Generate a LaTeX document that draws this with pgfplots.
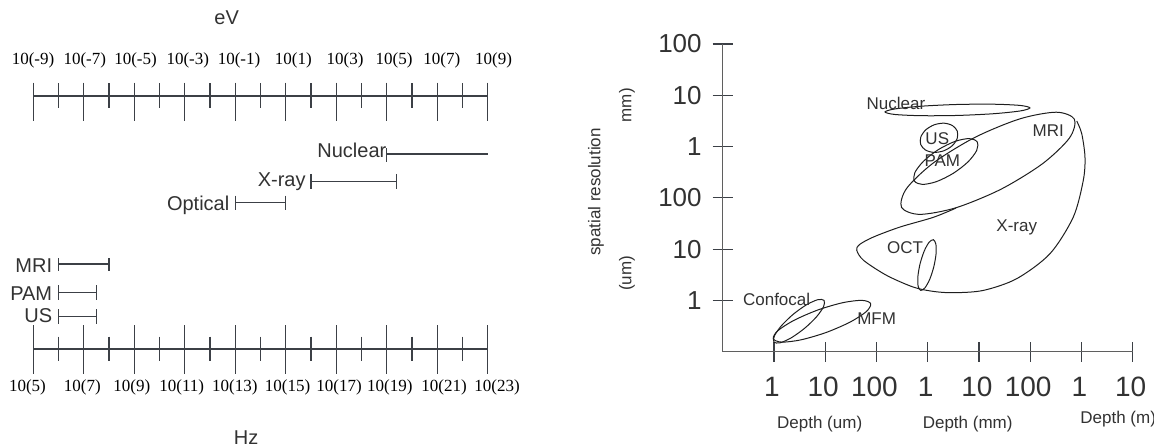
\documentclass[border=0pt]{standalone}
\usepackage{pgfplots}
\pgfplotsset{compat=1.18}
\usepackage{fontspec}
\setmainfont{Liberation Sans}
\newfontfamily\timesf{Liberation Serif}
\definecolor{lc}{RGB}{60,64,70}
\definecolor{tc}{RGB}{50,50,50}
\definecolor{ac}{RGB}{95,95,95}
\definecolor{ec}{RGB}{30,30,30}
\newcommand\fs[1]{\fontsize{#1}{#1}\selectfont}
\begin{document}
\begin{tikzpicture}
\useasboundingbox (0,0) rectangle (577pt,-224pt);

% ---------- top number line (eV) ----------
\begin{axis}[
  at={(16.65pt,0pt)}, anchor=north west,
  scale only axis, width=227.2pt, height=224pt,
  xmin=-9, xmax=9, ymin=0, ymax=448, y dir=reverse,
  hide axis, clip=false, unbounded coords=jump,
]
\addplot[lc, line width=0.65pt] coordinates {(-9,96) (9,96)};
\addplot[lc, line width=0.65pt] coordinates {
 (-9,82.7) (-9,120.7) (-9,nan) (-7,82.7) (-7,120.7) (-7,nan)
 (-5,82.7) (-5,120.7) (-5,nan) (-3,82.7) (-3,120.7) (-3,nan)
 (-1,82.7) (-1,120.7) (-1,nan) (1,82.7) (1,120.7) (1,nan)
 (3,82.7) (3,120.7) (3,nan) (5,82.7) (5,120.7) (5,nan)
 (7,82.7) (7,120.7) (7,nan) (9,82.7) (9,120.7)};
\addplot[lc, line width=0.65pt] coordinates {
 (-8,83.3) (-8,108.3) (-8,nan) (-6,83.3) (-6,108.3) (-6,nan)
 (-4,83.3) (-4,108.3) (-4,nan) (-2,83.3) (-2,108.3) (-2,nan)
 (0,83.3) (0,108.3) (0,nan) (2,83.3) (2,108.3) (2,nan)
 (4,83.3) (4,108.3) (4,nan) (6,83.3) (6,108.3) (6,nan)
 (8,83.3) (8,108.3)};
% ranges (eV)
\addplot[lc, line width=0.65pt] coordinates {(5,148.3) (5,161.7) (5,nan) (5,154) (9,154)};
\addplot[lc, line width=0.65pt] coordinates {(2,174) (2,189.3) (2,nan) (2,181.7) (5.4,181.7) (5.4,nan) (5.4,174) (5.4,189.3)};
\addplot[lc, line width=0.65pt] coordinates {(-1,195.7) (-1,210) (-1,nan) (-1,202.7) (1,202.7) (1,nan) (1,195.7) (1,210)};
\node[anchor=base east, inner sep=0pt, font=\fs{10}, text=tc] at (axis cs:5,157.3) {Nuclear};
\node[anchor=base east, inner sep=0pt, font=\fs{10}, text=tc, xshift=-2.5pt] at (axis cs:2,186.7) {X-ray};
\node[anchor=base east, inner sep=0pt, font=\fs{10}, text=tc, xshift=-2.8pt] at (axis cs:-1,210.7) {Optical};
% tick labels
\begin{scope}[every node/.style={font=\timesf\fs{8.5}, text=black, anchor=base, inner sep=0pt}]
\node at (axis cs:-9.01,65) {10(-9)};
\node at (axis cs:-6.96,65) {10(-7)};
\node at (axis cs:-4.95,65) {10(-5)};
\node at (axis cs:-2.88,65) {10(-3)};
\node at (axis cs:-0.85,65) {10(-1)};
\node at (axis cs:1.30,65) {10(1)};
\node at (axis cs:3.35,65) {10(3)};
\node at (axis cs:5.29,65) {10(5)};
\node at (axis cs:7.18,65) {10(7)};
\node at (axis cs:9.23,65) {10(9)};
\end{scope}
\node[font=\fs{10}, text=tc] at (axis cs:-1.34,18) {eV};
\end{axis}

% ---------- bottom number line (Hz) ----------
\begin{axis}[
  at={(16.65pt,0pt)}, anchor=north west,
  scale only axis, width=227.2pt, height=224pt,
  xmin=5, xmax=23, ymin=0, ymax=448, y dir=reverse,
  hide axis, clip=false, unbounded coords=jump,
]
\addplot[lc, line width=0.65pt] coordinates {(5,349) (23,349)};
\addplot[lc, line width=0.65pt] coordinates {
 (5,325) (5,374) (5,nan) (7,325) (7,374) (7,nan)
 (9,325) (9,374) (9,nan) (11,325) (11,374) (11,nan)
 (13,325) (13,374) (13,nan) (15,325) (15,374) (15,nan)
 (17,325) (17,374) (17,nan) (19,325) (19,374) (19,nan)
 (21,325) (21,374) (21,nan) (23,325) (23,374)};
\addplot[lc, line width=0.65pt] coordinates {
 (6,336.7) (6,361) (6,nan) (8,336.7) (8,361) (8,nan)
 (10,336.7) (10,361) (10,nan) (12,336.7) (12,361) (12,nan)
 (14,336.7) (14,361) (14,nan) (16,336.7) (16,361) (16,nan)
 (18,336.7) (18,361) (18,nan) (20,336.7) (20,361) (20,nan)
 (22,336.7) (22,361)};
% ranges (Hz)
\addplot[lc, line width=0.65pt] coordinates {(6,258) (6,270.7) (6,nan) (6,264) (8,264) (8,nan) (8,258) (8,270.7)};
\addplot[lc, line width=0.65pt] coordinates {(6,285) (6,300) (6,nan) (6,292.3) (7.5,292.3) (7.5,nan) (7.5,285) (7.5,300)};
\addplot[lc, line width=0.65pt] coordinates {(6,309.3) (6,324) (6,nan) (6,316.7) (7.5,316.7) (7.5,nan) (7.5,309.3) (7.5,324)};
\node[anchor=base east, inner sep=0pt, font=\fs{10}, text=tc, xshift=-3pt] at (axis cs:6,272.7) {MRI};
\node[anchor=base east, inner sep=0pt, font=\fs{10}, text=tc, xshift=-3pt] at (axis cs:6,300) {PAM};
\node[anchor=base east, inner sep=0pt, font=\fs{10}, text=tc, xshift=-3pt] at (axis cs:6,322.7) {US};
\begin{scope}[every node/.style={font=\timesf\fs{8.5}, text=black, anchor=base, inner sep=0pt}]
\node at (axis cs:4.77,391) {10(5)};
\node at (axis cs:6.94,391) {10(7)};
\node at (axis cs:8.90,391) {10(9)};
\node at (axis cs:10.88,391) {10(11)};
\node at (axis cs:12.98,391) {10(13)};
\node at (axis cs:15.07,391) {10(15)};
\node at (axis cs:17.11,391) {10(17)};
\node at (axis cs:19.12,391) {10(19)};
\node at (axis cs:21.27,391) {10(21)};
\node at (axis cs:23.37,391) {10(23)};
\end{scope}
\node[font=\fs{10}, text=tc] at (axis cs:13.43,437.2) {Hz};
\end{axis}

% ---------- right panel ----------
\begin{axis}[
  at={(361.35pt,-175.85pt)}, anchor=south west,
  scale only axis, width=205pt, height=153.85pt,
  xmin=-1, xmax=7, ymin=-1, ymax=5,
  axis lines=left, axis line style={ac, line width=0.6pt, -},
  xtick={0,...,7}, ytick={0,...,5},
  xticklabels={1,10,100,1,10,100,1,10},
  yticklabels={1,10,100,1,10,100},
  tick align=center, major tick length=10pt,
  tick style={lc, line width=0.6pt},
  xticklabel style={font=\fs{14}, text=tc, yshift=-4pt, xshift=-1pt},
  yticklabel style={font=\fs{13}, text=tc, xshift=-2pt},
  clip=false,
]
% Nuclear
\addplot[ec, line width=0.5pt, smooth cycle] coordinates {
 (4.995,3.754) (4.805,3.802) (4.286,3.826) (3.578,3.821) (2.871,3.787) (2.355,3.733)
 (2.167,3.675) (2.358,3.626) (2.876,3.602) (3.584,3.607) (4.291,3.641) (4.807,3.695)};
% US
\addplot[ec, line width=0.5pt, smooth cycle] coordinates {
 (3.577,3.301) (3.483,3.410) (3.319,3.456) (3.128,3.425) (2.962,3.326) (2.865,3.185)
 (2.863,3.041) (2.957,2.932) (3.121,2.886) (3.312,2.917) (3.478,3.016) (3.575,3.157)};
% PAM
\addplot[ec, line width=0.5pt, smooth cycle] coordinates {
 (3.965,3.092) (3.811,3.156) (3.534,3.101) (3.208,2.941) (2.922,2.718) (2.750,2.494)
 (2.741,2.326) (2.895,2.262) (3.172,2.317) (3.498,2.478) (3.785,2.700) (3.956,2.925)};
% MRI
\addplot[ec, line width=0.5pt, smooth cycle] coordinates {
 (5.863,3.533) (5.508,3.670) (4.797,3.540) (3.919,3.178) (3.110,2.681) (2.587,2.182)
 (2.489,1.815) (2.844,1.678) (3.555,1.808) (4.433,2.170) (5.242,2.667) (5.765,3.166)};
% X-ray
\addplot[ec, line width=0.5pt, smooth] coordinates {
 (3.55,1.80) (3.109,1.62) (2.459,1.431) (1.94,1.236) (1.67,1.09) (1.615,0.98) (1.75,0.78)
 (2.199,0.488) (2.719,0.260) (3.109,0.176) (3.499,0.150) (4.085,0.195) (4.737,0.424)
 (5.386,0.911) (5.841,1.626) (6.036,2.342) (6.069,2.797) (6.005,3.253) (5.908,3.499)};
% OCT
\addplot[ec, line width=0.5pt, smooth cycle] coordinates {
 (3.109,1.183) (3.026,1.133) (2.933,0.965) (2.853,0.722) (2.809,0.471) (2.813,0.278)
 (2.863,0.195) (2.946,0.245) (3.040,0.413) (3.119,0.656) (3.163,0.907) (3.159,1.100)};
% Confocal
\addplot[ec, line width=0.5pt, smooth cycle] coordinates {
 (0.977,0.001) (0.855,0.014) (0.635,-0.085) (0.375,-0.271) (0.146,-0.493) (0.009,-0.691)
 (-0.001,-0.813) (0.121,-0.826) (0.341,-0.727) (0.601,-0.541) (0.830,-0.320) (0.968,-0.121)};
% MFM
\addplot[ec, line width=0.5pt, smooth cycle] coordinates {
 (1.888,-0.064) (1.721,0.001) (1.344,-0.044) (0.858,-0.186) (0.393,-0.387) (0.074,-0.592)
 (-0.014,-0.748) (0.153,-0.813) (0.530,-0.768) (1.016,-0.626) (1.481,-0.425) (1.800,-0.220)};
\begin{scope}[every node/.style={font=\fs{8.5}, text=tc, inner sep=0pt}]
\node at (axis cs:2.381,3.851) {Nuclear};
\node at (axis cs:3.187,3.156) {US};
\node at (axis cs:3.285,2.719) {PAM};
\node at (axis cs:5.353,3.318) {MRI};
\node at (axis cs:4.737,1.431) {X-ray};
\node at (axis cs:2.557,1.028) {OCT};
\node at (axis cs:0.052,0.013) {Confocal};
\node at (axis cs:2.004,-0.358) {MFM};
\node at (axis cs:0.892,-2.406) {Depth (um)};
\node at (axis cs:3.780,-2.406) {Depth (mm)};
\node[anchor=west] at (axis cs:5.972,-2.309) {Depth (m)};
\node[rotate=90] at (axis cs:-3.474,2.114) {spatial resolution};
\node[rotate=90] at (axis cs:-2.869,3.806) {mm)};
\node[rotate=90] at (axis cs:-2.869,0.527) {(um)};
\end{scope}
\end{axis}
\end{tikzpicture}
\end{document}
